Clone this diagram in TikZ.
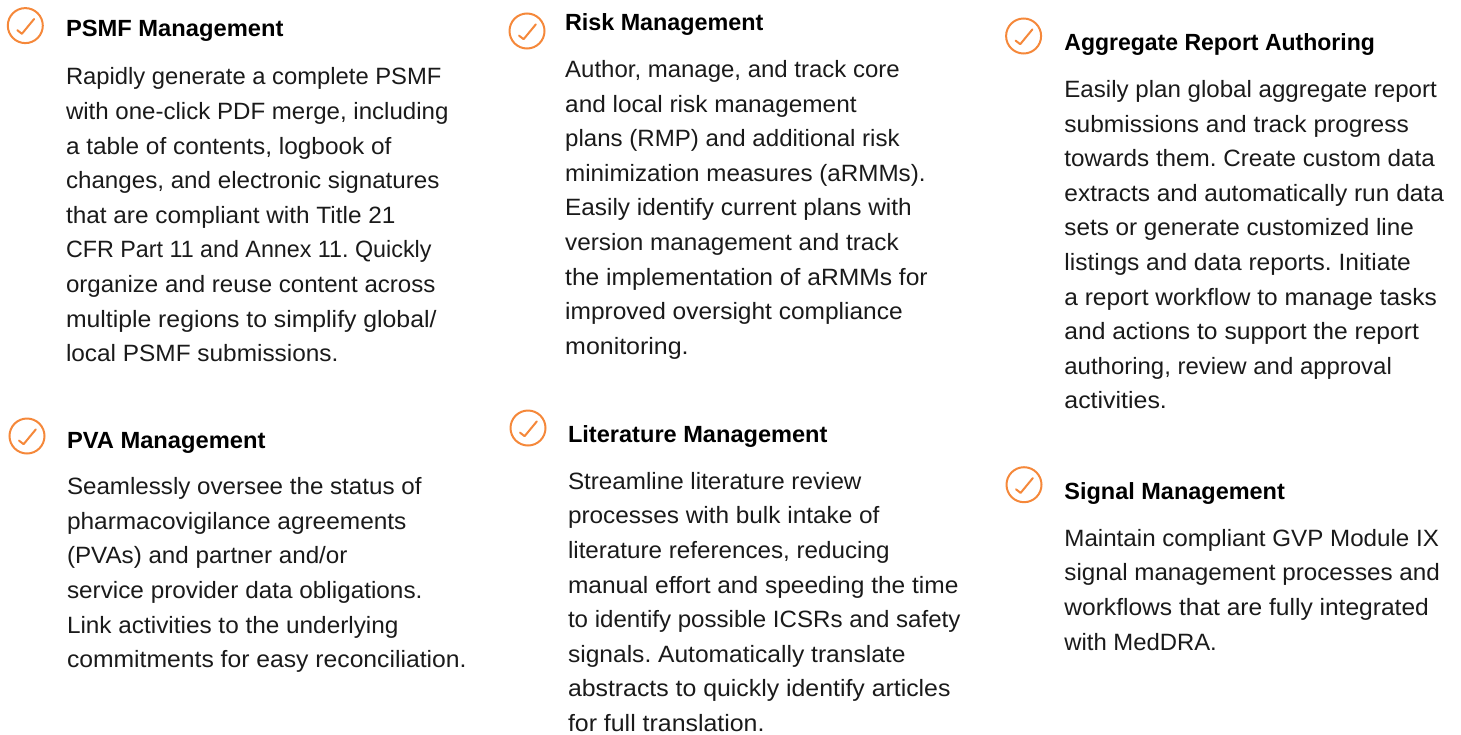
\documentclass[tikz,border=0pt]{standalone}
\usepackage{fontspec}
\usepackage{graphicx}
\setmainfont{Liberation Sans}
\frenchspacing
\definecolor{tickorange}{HTML}{F5883A}
\definecolor{inktext}{HTML}{1A1A1A}
\tikzset{
  x=1pt,y=-1pt,
  tickring/.style={circle,draw=tickorange,line width=2pt,minimum size=35pt,inner sep=0pt},
  tickmark/.style={draw=tickorange,line width=2pt,line cap=round,line join=round},
  headtext/.style={anchor=base west,inner sep=0pt,text=black,font=\fontsize{23.4}{27}\selectfont\bfseries},
  bodytext/.style={anchor=north west,inner sep=0pt,align=left,text=inktext,font=\fontsize{23.6}{34.6}\selectfont},
}
\newcommand{\fitline}[2]{\mbox{\rule{0pt}{18pt}\resizebox{\dimexpr#1pt+1.5pt\relax}{\height}{#2}}}
\newcommand{\ticksign}[3]{%
  \node[tickring] (#1) at (#2,#3) {};
  \draw[tickmark] ([shift={(-8,4.6)}]#1.center) -- ([shift={(-3.4,8.2)}]#1.center) -- ([shift={(8.8,-6.6)}]#1.center);
}
\begin{document}
\begin{tikzpicture}
\useasboundingbox (0,0) rectangle (1461,734);
\ticksign{iconA}{25.3}{25.6}
\ticksign{iconB}{27}{436}
\ticksign{iconC}{527}{31}
\ticksign{iconD}{528}{428}
\ticksign{iconE}{1023.6}{36}
\ticksign{iconF}{1024}{484.7}
\node[headtext] (headA) at (65.8,36.8) {\fitline{216}{PSMF Management}};
\node[headtext] (headB) at (66.8,448.3) {\fitline{197}{PVA Management}};
\node[headtext] (headC) at (564.8,30) {\fitline{197}{Risk Management}};
\node[headtext] (headD) at (567.8,442) {\fitline{258}{Literature Management}};
\node[headtext] (headE) at (1064.2,50) {\fitline{309}{Aggregate Report Authoring}};
\node[headtext] (headF) at (1064.2,499.3) {\fitline{219}{Signal Management}};
\node[bodytext] (bodyA) at (65.8,66.6) {\fitline{374}{Rapidly generate a complete PSMF}\\\fitline{381}{with one-click PDF merge, including}\\\fitline{324}{a table of contents, logbook of}\\\fitline{372}{changes, and electronic signatures}\\\fitline{328}{that are compliant with Title 21}\\\fitline{364}{CFR Part 11 and Annex 11. Quickly}\\\fitline{368}{organize and reuse content across}\\\fitline{369}{multiple regions to simplify global/}\\\fitline{271}{local PSMF submissions.}};
\node[bodytext] (bodyB) at (66.8,476.5) {\fitline{353}{Seamlessly oversee the status of}\\\fitline{338}{pharmacovigilance agreements}\\\fitline{279}{(PVAs) and partner and/or}\\\fitline{354}{service provider data obligations.}\\\fitline{330}{Link activities to the underlying}\\\fitline{398}{commitments for easy reconciliation.}};
\node[bodytext] (bodyC) at (565,59.3) {\fitline{333}{Author, manage, and track core}\\\fitline{290}{and local risk management}\\\fitline{333}{plans (RMP) and additional risk}\\\fitline{359}{minimization measures (aRMMs).}\\\fitline{345}{Easily identify current plans with}\\\fitline{332}{version management and track}\\\fitline{361}{the implementation of aRMMs for}\\\fitline{336}{improved oversight compliance}\\\fitline{122}{monitoring.}};
\node[bodytext] (bodyD) at (567.8,471) {\fitline{292}{Streamline literature review}\\\fitline{310}{processes with bulk intake of}\\\fitline{320}{literature references, reducing}\\\fitline{389}{manual effort and speeding the time}\\\fitline{391}{to identify possible ICSRs and safety}\\\fitline{336}{signals. Automatically translate}\\\fitline{381}{abstracts to quickly identify articles}\\\fitline{195}{for full translation.}};
\node[bodytext] (bodyE) at (1064.2,79.3) {\fitline{371}{Easily plan global aggregate report}\\\fitline{343}{submissions and track progress}\\\fitline{369}{towards them. Create custom data}\\\fitline{378}{extracts and automatically run data}\\\fitline{348}{sets or generate customized line}\\\fitline{345}{listings and data reports. Initiate}\\\fitline{371}{a report workflow to manage tasks}\\\fitline{353}{and actions to support the report}\\\fitline{326}{authoring, review and approval}\\\fitline{101}{activities.}};
\node[bodytext] (bodyF) at (1064.2,528) {\fitline{373}{Maintain compliant GVP Module IX}\\\fitline{374}{signal management processes and}\\\fitline{363}{workflows that are fully integrated}\\\fitline{151}{with MedDRA.}};
\end{tikzpicture}
\end{document}
